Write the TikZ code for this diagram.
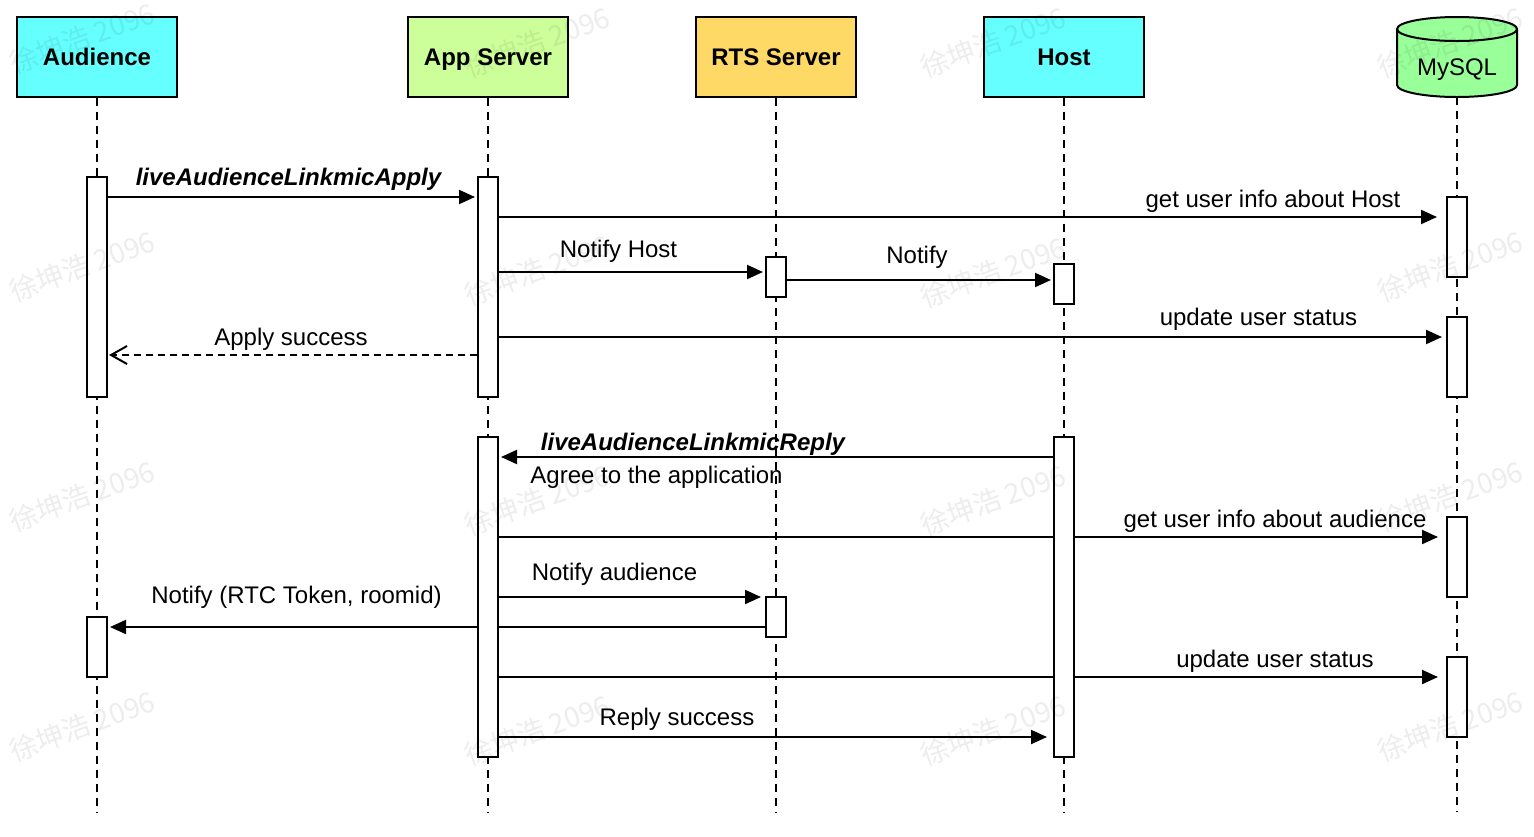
\documentclass[tikz,border=0pt]{standalone}
\usepackage{fontspec}
\setmainfont{Liberation Sans}
\newfontfamily\cjk{Noto Sans CJK SC}
\usetikzlibrary{arrows.meta}
\pgfdeclarelayer{bg}
\pgfsetlayers{bg,main}
\definecolor{cyanhead}{HTML}{66FFFF}
\definecolor{apphead}{HTML}{CCFF99}
\definecolor{rtshead}{HTML}{FFD966}
\definecolor{dbhead}{HTML}{99FF99}
\tikzset{
  head/.style={draw=black, line width=1pt, minimum width=80pt, minimum height=40pt,
    inner sep=0pt, text height=8.6pt, text depth=0pt, font=\fontsize{12}{14}\selectfont\bfseries},
  actbar/.style={draw=black, fill=white, line width=1pt, minimum width=10pt, inner sep=0pt},
  life/.style={draw=black, line width=0.8pt, dash pattern=on 4pt off 3pt},
  msg/.style={draw=black, line width=1pt, -{Triangle[length=8pt,width=7pt]}},
  reply/.style={draw=black, line width=1pt, dash pattern=on 3.5pt off 2.5pt, -{Straight Barb[length=8pt,width=9pt,line width=1pt]}},
  lbl/.style={inner sep=0pt, text height=8.6pt, text depth=2.5pt, font=\fontsize{12}{14}\selectfont},
  mlbl/.style={inner sep=0pt, text height=8.6pt, text depth=2.5pt, font=\fontsize{12}{14}\selectfont\bfseries\itshape},
  wm/.style={inner sep=0pt, rotate=20, text=black, text opacity=0.07, font=\cjk\fontsize{14}{16}\selectfont}
}
\begin{document}
\begin{tikzpicture}[x=0.5pt,y=-0.5pt]
\useasboundingbox (0,0) rectangle (1534,836);

% heads
\node[head, fill=cyanhead] (aud) at (97,56.5) {Audience};
\node[head, fill=apphead] (app) at (488,56.5) {App Server};
\node[head, fill=rtshead] (rts) at (776,56.5) {RTS Server};
\node[head, fill=cyanhead] (host) at (1064,56.5) {Host};
\draw[line width=1pt, fill=dbhead] (1397,29) -- (1397,85)
  arc[start angle=180, end angle=360, x radius=30pt, y radius=6pt] -- (1517,29)
  arc[start angle=0, end angle=180, x radius=30pt, y radius=6pt] -- cycle;
\draw[line width=1pt] (1397,29) arc[start angle=180, end angle=360, x radius=30pt, y radius=6pt];
\node[lbl] (mysql) at (1457,69) {MySQL};
\coordinate (dbb) at (1457,97);
\coordinate (lend) at (0,812);

% activation bars
\node[actbar, minimum height=110pt] (ab1) at (97,287) {};
\node[actbar, minimum height=30pt] (ab2) at (97,647) {};
\node[actbar, minimum height=110pt] (pb1) at (488,287) {};
\node[actbar, minimum height=160pt] (pb2) at (488,597) {};
\node[actbar, minimum height=20pt] (rb1) at (776,277) {};
\node[actbar, minimum height=20pt] (rb2) at (776,617) {};
\node[actbar, minimum height=20pt] (hb1) at (1064,284) {};
\node[actbar, minimum height=160pt] (hb2) at (1064,597) {};
\node[actbar, minimum height=40pt] (mb1) at (1457,237) {};
\node[actbar, minimum height=40pt] (mb2) at (1457,357) {};
\node[actbar, minimum height=40pt] (mb3) at (1457,557) {};
\node[actbar, minimum height=40pt] (mb4) at (1457,697) {};

% message heights
\coordinate (m1) at (0,197);
\coordinate (m2) at (0,217);
\coordinate (m3) at (0,272);
\coordinate (m4) at (0,280);
\coordinate (m5) at (0,337);
\coordinate (m6) at (0,355);
\coordinate (m7) at (0,457);
\coordinate (m8) at (0,537);
\coordinate (m9) at (0,597);
\coordinate (m10) at (0,627);
\coordinate (m11) at (0,677);
\coordinate (m12) at (0,737);

\begin{pgfonlayer}{bg}
\fill[white] (0,0) rectangle (1534,836);
\draw[life] (aud.south) -- (aud.south |- lend);
\draw[life] (app.south) -- (app.south |- lend);
\draw[life] (rts.south) -- (rts.south |- lend);
\draw[life] (host.south) -- (host.south |- lend);
\draw[life] (dbb) -- (dbb |- lend);

\draw[msg, shorten >=1pt] (ab1.east |- m1) -- (pb1.west |- m1);
\draw[msg, shorten >=4.5pt] (pb1.east |- m2) -- (mb1.west |- m2);
\draw[msg, shorten >=1pt] (pb1.east |- m3) -- (rb1.west |- m3);
\draw[msg, shorten >=1pt] (rb1.east |- m4) -- (hb1.west |- m4);
\draw[msg, shorten >=2pt] (pb1.east |- m5) -- (mb2.west |- m5);
\draw[reply, shorten >=0.5pt] (pb1.west |- m6) -- (ab1.east |- m6);
\draw[msg, shorten >=1pt] (hb2.west |- m7) -- (pb2.east |- m7);
\draw[msg, shorten >=4pt] (pb2.east |- m8) -- (mb3.west |- m8);
\draw[msg, shorten >=2pt] (pb2.east |- m9) -- (rb2.west |- m9);
\draw[msg, shorten >=1pt] (rb2.west |- m10) -- (ab2.east |- m10);
\draw[msg, shorten >=4pt] (pb2.east |- m11) -- (mb4.west |- m11);
\draw[msg, shorten >=3pt] (pb2.east |- m12) -- (hb2.west |- m12);
\end{pgfonlayer}

% labels
\node[mlbl] (l1) at (288.5,179) {liveAudienceLinkmicApply};
\node[lbl] (l2) at (1273,201) {get user info about Host};
\node[lbl] (l3) at (618.5,251) {Notify Host};
\node[lbl] (l4) at (917,257) {Notify};
\node[lbl] (l5) at (1258.5,319) {update user status};
\node[lbl] (l6) at (291,339) {Apply success};
\node[mlbl] (l7) at (693,444) {liveAudienceLinkmicReply};
\node[lbl] (l8) at (656.5,477) {Agree to the application};
\node[lbl] (l9) at (1275,521) {get user info about audience};
\node[lbl] (l10) at (614.5,574) {Notify audience};
\node[lbl] (l11) at (296.5,597) {Notify (RTC Token, roomid)};
\node[lbl] (l12) at (1275,661) {update user status};
\node[lbl] (l13) at (677,719) {Reply success};

% watermark
\foreach \wx/\wy [count=\i] in {82/38,537/42,993/42,1450/42,
  82/266,537/270,993/272,1450/266,
  82/496,537/500,993/500,1450/496,
  82/726,537/730,993/730,1450/726}
  \node[wm] (wm\i) at (\wx,\wy) {徐坤浩 2096};
\end{tikzpicture}
\end{document}
